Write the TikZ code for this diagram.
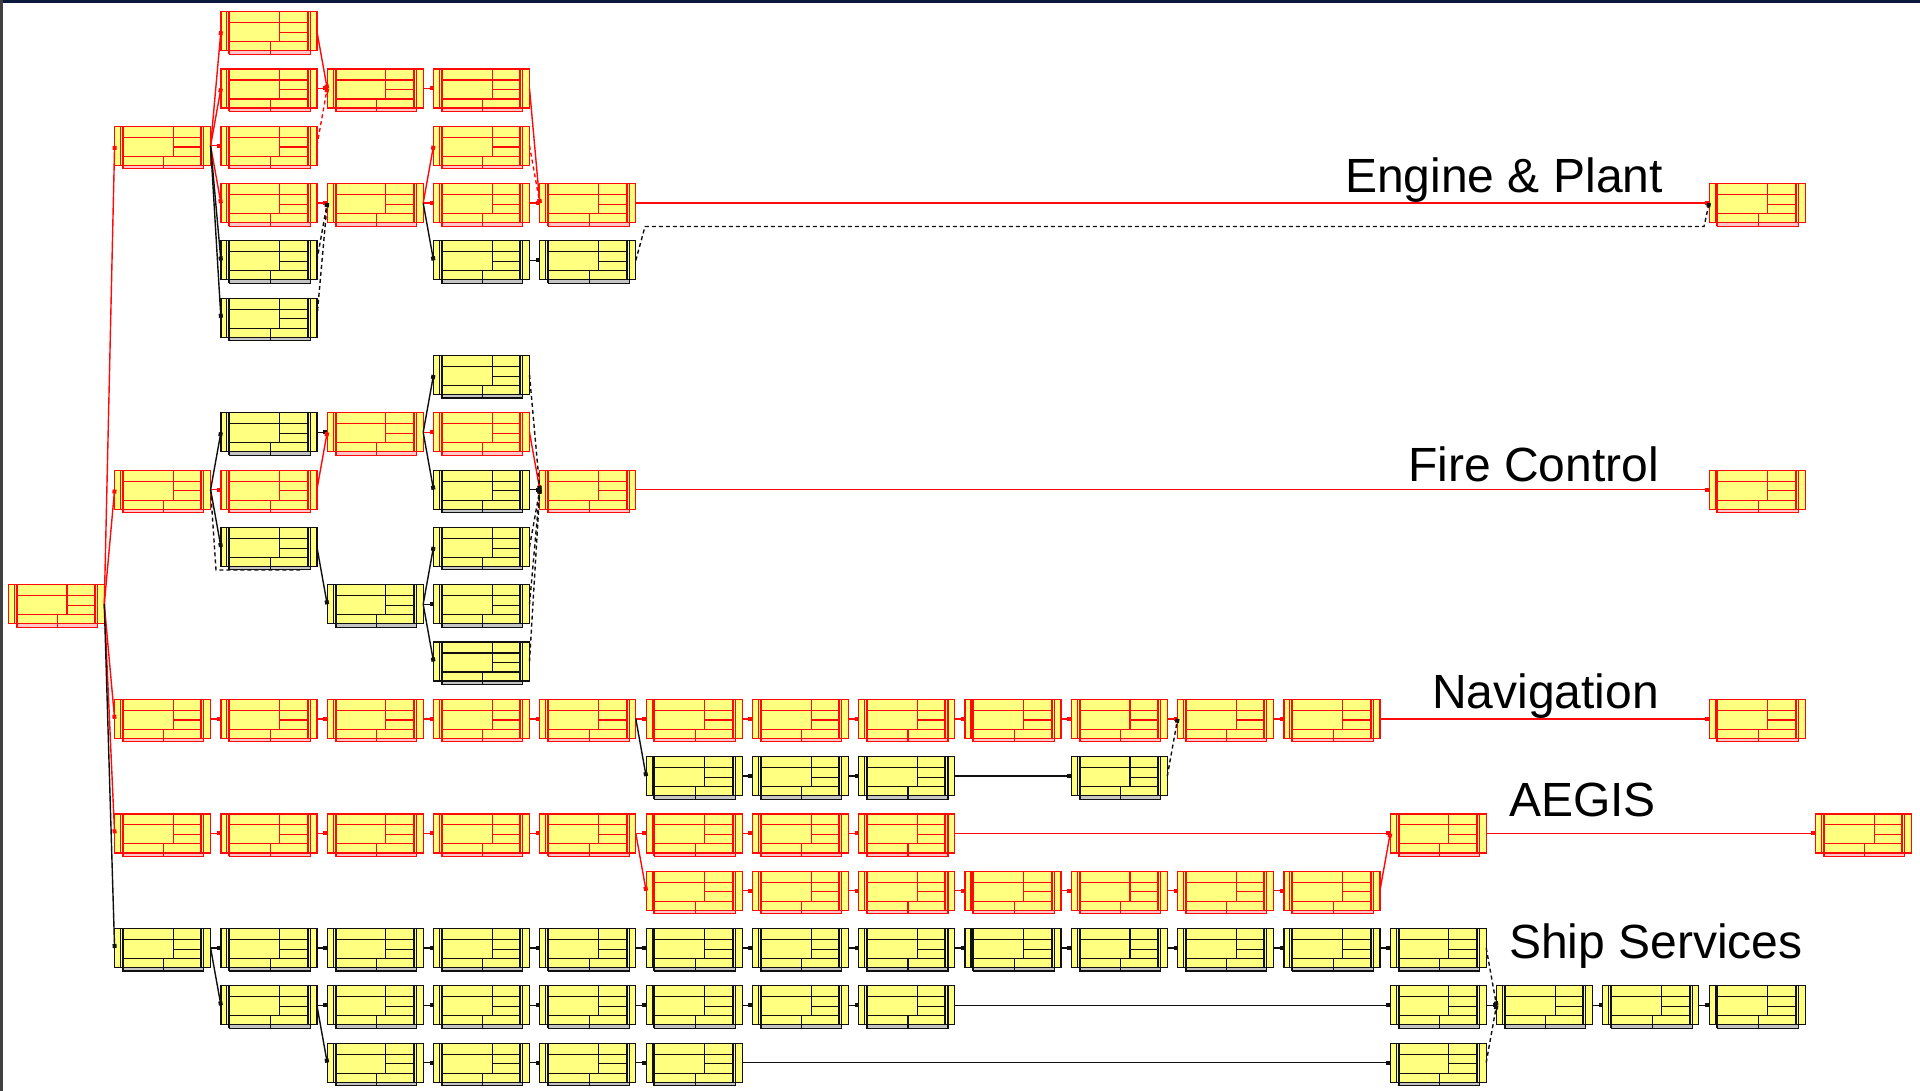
\documentclass[tikz,border=0pt]{standalone}
\usepackage{fontspec}
\setmainfont{Liberation Sans}
\usetikzlibrary{arrows.meta,calc}
\definecolor{fillY}{HTML}{FFFF80}
\definecolor{lnR}{HTML}{FF0A0A}
\definecolor{lnK}{HTML}{101010}
\definecolor{stripR}{HTML}{FFC8C8}
\definecolor{stripK}{HTML}{C4C4C4}
\definecolor{navy}{HTML}{0B1A3C}
\tikzset{
  tbox/.style={draw=#1, fill=fillY, line width=1.2pt, minimum width=96pt, minimum height=39pt,
    inner sep=0pt, outer sep=0pt, anchor=north west},
  rlink/.style={draw=lnR, line width=1.4pt, -{Square[length=4pt,width=4pt]}},
  klink/.style={draw=lnK, line width=1.4pt, -{Square[length=4pt,width=4pt]}},
  rdash/.style={rlink, dash pattern=on 4pt off 3pt},
  kdash/.style={klink, dash pattern=on 4pt off 3pt},
  lbl/.style={font=\fontsize{48}{52}\selectfont, inner sep=0pt, text=black}
}
\newcommand\bx[4]{%
  \pgfmathsetmacro\bxX{8.3+106.3*#2}%
  \pgfmathsetmacro\bxY{11.7+57.3*#3}%
  \filldraw[fill=strip#4, draw=ln#4, line width=1.1pt] (\bxX+8.3,\bxY+36) rectangle (\bxX+89.3,\bxY+42.5);
  \node[tbox=ln#4] (#1) at (\bxX,\bxY) {};
  \begin{scope}[shift={(#1.north west)}, draw=ln#4, line width=1.1pt]
    \draw (6,0) -- (6,39);
    \draw[line width=2pt] (8.3,0) -- (8.3,42.5);
    \draw[line width=2pt] (86.7,0) -- (86.7,39);
    \draw (89.3,0) -- (89.3,42.5);
    \draw (8.3,11) -- (86.7,11);
    \draw (8.3,30) -- (86.7,30);
    \draw (58.7,20.7) -- (86.7,20.7);
    \draw (58.7,0) -- (58.7,30);
    \draw (49.3,30) -- (49.3,42.5);
  \end{scope}
}
\begin{document}
\begin{tikzpicture}[x=1pt,y=-1pt]
\useasboundingbox (0,0) rectangle (1920,1091);
\fill[white] (0,0) rectangle (1920,1091);
\fill[navy] (0,0) rectangle (1920,3.5);
\fill[lnK!80] (0,0) rectangle (3,1091);

% ---------- boxes ----------
% Engine & Plant
\bx{n2-0}{2}{0}{R}
\bx{n2-1}{2}{1}{R} \bx{n3-1}{3}{1}{R} \bx{n4-1}{4}{1}{R}
\bx{n1-2}{1}{2}{R} \bx{n2-2}{2}{2}{R} \bx{n4-2}{4}{2}{R}
\bx{n2-3}{2}{3}{R} \bx{n3-3}{3}{3}{R} \bx{n4-3}{4}{3}{R} \bx{n5-3}{5}{3}{R} \bx{n16-3}{16}{3}{R}
\bx{n2-4}{2}{4}{K} \bx{n4-4}{4}{4}{K} \bx{n5-4}{5}{4}{K}
\bx{n2-5}{2}{5}{K}
% Fire Control
\bx{n4-6}{4}{6}{K}
\bx{n2-7}{2}{7}{K} \bx{n3-7}{3}{7}{R} \bx{n4-7}{4}{7}{R}
\bx{n1-8}{1}{8}{R} \bx{n2-8}{2}{8}{R} \bx{n4-8}{4}{8}{K} \bx{n5-8}{5}{8}{R} \bx{n16-8}{16}{8}{R}
\bx{n2-9}{2}{9}{K} \bx{n4-9}{4}{9}{K}
\bx{n0-10}{0}{10}{R} \bx{n3-10}{3}{10}{K} \bx{n4-10}{4}{10}{K}
\bx{n4-11}{4}{11}{K}
% Navigation
\foreach \c in {1,...,12} {\bx{n\c-12}{\c}{12}{R}}
\bx{n16-12}{16}{12}{R}
\foreach \c in {6,7,8,10} {\bx{n\c-13}{\c}{13}{K}}
% AEGIS
\foreach \c in {1,...,8} {\bx{n\c-14}{\c}{14}{R}}
\bx{n13-14}{13}{14}{R} \bx{n17-14}{17}{14}{R}
\foreach \c in {6,...,12} {\bx{n\c-15}{\c}{15}{R}}
% Ship Services
\foreach \c in {1,...,13} {\bx{n\c-16}{\c}{16}{K}}
\foreach \c in {2,...,8,13,14,15,16} {\bx{n\c-17}{\c}{17}{K}}
\foreach \c in {3,...,6,13} {\bx{n\c-18}{\c}{18}{K}}

% ---------- connectors ----------
% from start
\foreach \t in {n1-2,n1-8,n1-12,n1-14} {\draw[rlink] (n0-10.east) -- (\t.west);}
\draw[klink] (n0-10.east) -- (n1-16.west);
% Engine & Plant
\foreach \t in {n2-0,n2-1,n2-2,n2-3} {\draw[rlink] (n1-2.east) -- (\t.west);}
\foreach \t in {n2-4,n2-5} {\draw[klink] (n1-2.east) -- (\t.west);}
\draw[rlink] (n2-0.east) -- (n3-1.west);
\draw[rlink] (n2-1.east) -- (n3-1.west);
\draw[rdash] (n2-2.east) -- (n3-1.west);
\draw[rlink] (n3-1.east) -- (n4-1.west);
\draw[rlink] (n2-3.east) -- (n3-3.west);
\draw[kdash] (n2-4.east) -- (n3-3.west);
\draw[kdash] (n2-5.east) -- (n3-3.west);
\draw[rlink] (n3-3.east) -- (n4-2.west);
\draw[rlink] (n3-3.east) -- (n4-3.west);
\draw[klink] (n3-3.east) -- (n4-4.west);
\draw[rlink] (n4-1.east) -- (n5-3.west);
\draw[rdash] (n4-2.east) -- (n5-3.west);
\draw[rlink] (n4-3.east) -- (n5-3.west);
\draw[klink] (n4-4.east) -- (n5-4.west);
\draw[rlink] (n5-3.east) -- (n16-3.west);
\coordinate (d1) at (645,226.5);
\coordinate (d2) at (1704,226.5);
\draw[kdash] (n5-4.east) -- (d1) -- (d2) -- (n16-3.west);
% Fire Control
\draw[klink] (n1-8.east) -- (n2-7.west);
\draw[rlink] (n1-8.east) -- (n2-8.west);
\draw[klink] (n1-8.east) -- (n2-9.west);
\coordinate (f1) at (216,570);
\coordinate (f2) at (300,570);
\draw[lnK, line width=1.4pt, dash pattern=on 4pt off 3pt] (n1-8.east) -- (f1) -- (f2);
\draw[klink] (n2-7.east) -- (n3-7.west);
\draw[rlink] (n2-8.east) -- (n3-7.west);
\draw[klink] (n2-9.east) -- (n3-10.west);
\draw[klink] (n3-7.east) -- (n4-6.west);
\draw[rlink] (n3-7.east) -- (n4-7.west);
\draw[klink] (n3-7.east) -- (n4-8.west);
\foreach \t in {n4-9,n4-10,n4-11} {\draw[klink] (n3-10.east) -- (\t.west);}
\draw[rlink] (n4-7.east) -- (n5-8.west);
\draw[klink] (n4-8.east) -- (n5-8.west);
\foreach \s in {n4-6,n4-9,n4-10,n4-11} {\draw[kdash] (\s.east) -- (n5-8.west);}
\draw[rlink] (n5-8.east) -- (n16-8.west);
% Navigation
\foreach \a/\b in {1/2,2/3,3/4,4/5,5/6,6/7,7/8,8/9,9/10,10/11,11/12} {\draw[rlink] (n\a-12.east) -- (n\b-12.west);}
\draw[rlink] (n12-12.east) -- (n16-12.west);
\draw[klink] (n5-12.east) -- (n6-13.west);
\draw[klink] (n6-13.east) -- (n7-13.west);
\draw[klink] (n7-13.east) -- (n8-13.west);
\draw[klink] (n8-13.east) -- (n10-13.west);
\draw[kdash] (n10-13.east) -- (n11-12.west);
% AEGIS
\foreach \a/\b in {1/2,2/3,3/4,4/5,5/6,6/7,7/8} {\draw[rlink] (n\a-14.east) -- (n\b-14.west);}
\draw[rlink] (n5-14.east) -- (n6-15.west);
\foreach \a/\b in {6/7,7/8,8/9,9/10,10/11,11/12} {\draw[rlink] (n\a-15.east) -- (n\b-15.west);}
\draw[rlink] (n8-14.east) -- (n13-14.west);
\draw[rlink] (n12-15.east) -- (n13-14.west);
\draw[rlink] (n13-14.east) -- (n17-14.west);
% Ship Services
\foreach \a/\b in {1/2,2/3,3/4,4/5,5/6,6/7,7/8,8/9,9/10,10/11,11/12,12/13} {\draw[klink] (n\a-16.east) -- (n\b-16.west);}
\draw[klink] (n1-16.east) -- (n2-17.west);
\foreach \a/\b in {2/3,3/4,4/5,5/6,6/7,7/8,13/14,14/15,15/16} {\draw[klink] (n\a-17.east) -- (n\b-17.west);}
\draw[klink] (n8-17.east) -- (n13-17.west);
\draw[klink] (n2-17.east) -- (n3-18.west);
\foreach \a/\b in {3/4,4/5,5/6} {\draw[klink] (n\a-18.east) -- (n\b-18.west);}
\draw[klink] (n6-18.east) -- (n13-18.west);
\draw[kdash] (n13-16.east) -- (n14-17.west);
\draw[kdash] (n13-18.east) -- (n14-17.west);

% ---------- labels ----------
\node[lbl, anchor=base east] (lEng) at (1663,193) {Engine \& Plant};
\node[lbl, anchor=base east] (lFire) at (1659,481) {Fire Control};
\node[lbl, anchor=base east] (lNav) at (1659,708) {Navigation};
\node[lbl, anchor=base west] (lAeg) at (1509,816) {AEGIS};
\node[lbl, anchor=base west] (lShip) at (1509,958) {Ship Services};
\end{tikzpicture}
\end{document}
